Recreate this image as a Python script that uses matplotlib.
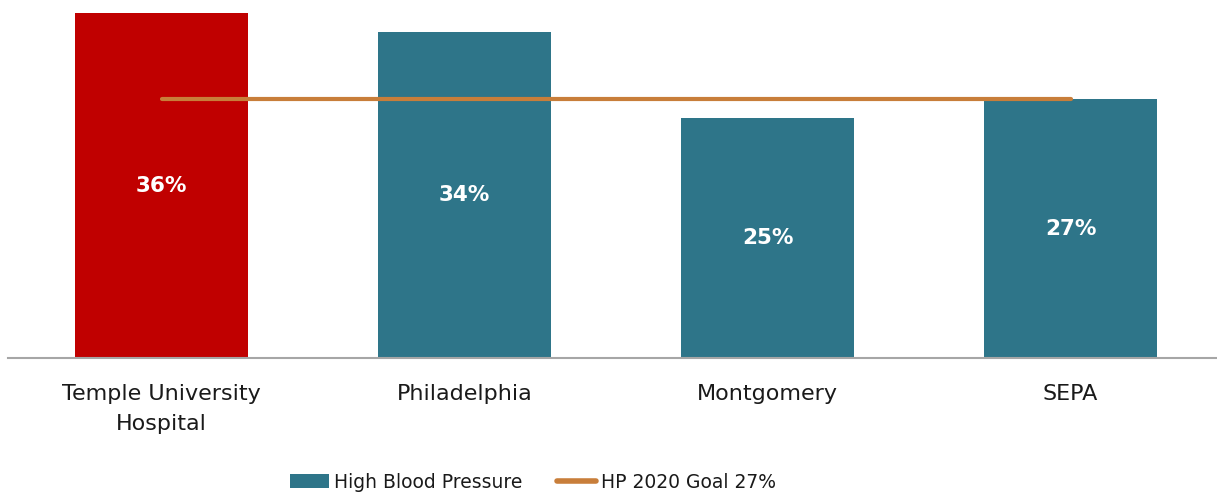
import numpy as np
import matplotlib.pyplot as plt
from matplotlib.patches import Patch
from matplotlib.lines import Line2D

## data
regions = ['Temple University\nHospital', 'Philadelphia', 'Montgomery', 'SEPA']
hbp = [36, 34, 25, 27]
goal = [27, 27, 27, 27]
labels = ['36%', '34%', '25%', '27%']

red = '#C00000'
teal = '#2E7589'
orange = '#C87E3A'

plt.rcParams['font.family'] = ['DejaVu Sans']

fig = plt.figure(figsize=(12.17, 4.95), dpi=100)
ax = fig.add_axes([8 / 1217, 137 / 495, 1209 / 1217, 345 / 495])

x = np.arange(len(regions))
cols = [red, teal, teal, teal]
ax.bar(x, hbp, width=0.571, color=cols, zorder=2)
ax.plot(x, goal, color=orange, lw=3, solid_capstyle='round', zorder=3)

## white value labels in the middle of each bar
for xi, v, lab in zip(x, hbp, labels):
    ax.text(xi, v / 2, lab, ha='center', va='center', color='white',
            fontsize=15.5, fontweight='bold', zorder=4)

ax.set_xlim(-0.507, 3.483)
ax.set_ylim(0, 36)
ax.set_xticks(x)
ax.set_xticklabels(regions, fontsize=16, color='#1a1a1a', linespacing=1.6)
ax.tick_params(axis='x', length=0, pad=19)
ax.set_yticks([])
for s in ['top', 'right', 'left']:
    ax.spines[s].set_visible(False)
ax.spines['bottom'].set_color('#A6A6A6')
ax.spines['bottom'].set_linewidth(1.5)

handles = [Patch(facecolor=teal, edgecolor='none'),
           Line2D([0], [0], color=orange, lw=4, solid_capstyle='round')]
fig.legend(handles, ['High Blood Pressure', 'HP 2020 Goal 27%'],
           loc='center', bbox_to_anchor=(533 / 1217, 1 - 482 / 495),
           ncol=2, frameon=False, fontsize=13.5, handlelength=2.1,
           handleheight=0.75, handletextpad=0.27, columnspacing=1.85,
           labelcolor='#1a1a1a')

fig.savefig('out.png', dpi=100)
